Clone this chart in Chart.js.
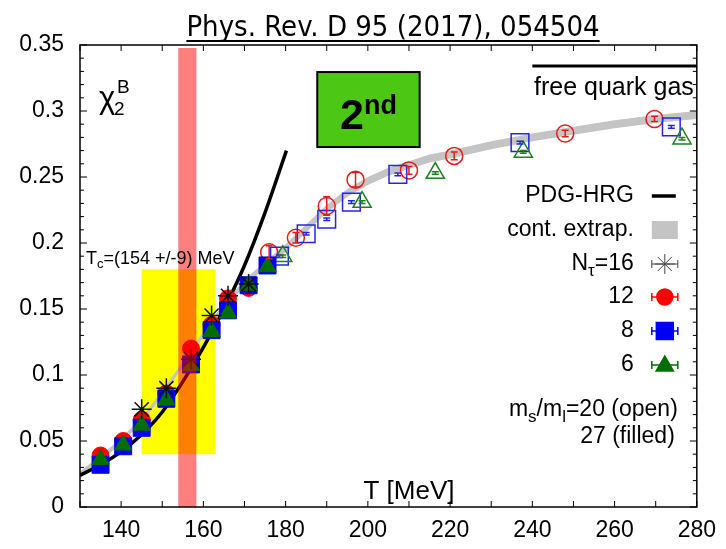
<!DOCTYPE html>
<html>
<head>
<meta charset="utf-8">
<script src="https://cdn.jsdelivr.net/npm/chart.js@4.4.1/dist/chart.umd.min.js"></script>
<style>
  html, body { margin: 0; padding: 0; background: #fff; }
  #chi2Chart { display: block; }
</style>
</head>
<body>
<canvas id="chi2Chart" width="726" height="549"></canvas>
<script>
// axis ranges and tick labels
const xMin = 130, xMax = 280;
const yMin = 0, yMax = 0.35;
const xTickLabels = ['140', '160', '180', '200', '220', '240', '260', '280'];
const yTickLabels = ['0', '0.05', '0.1', '0.15', '0.2', '0.25', '0.3', '0.35'];

// ms/ml = 27 (filled symbols)
const nt16T   = [145, 151, 157, 162, 166, 171];
const nt16Chi = [0.074, 0.090, 0.112, 0.145, 0.160, 0.169];

const nt12T   = [135, 140.5, 145, 151, 157, 162, 166, 171];
const nt12Chi = [0.039, 0.050, 0.066, 0.086, 0.120, 0.138, 0.158, 0.166];

const nt8T    = [135, 140.5, 145, 151, 157, 162, 166, 171, 175.6];
const nt8Chi  = [0.032, 0.046, 0.060, 0.082, 0.108, 0.134, 0.149, 0.168, 0.183];

const nt6T    = [135, 140.5, 145, 151, 157, 162, 166, 171, 175.6];
const nt6Chi  = [0.036, 0.047, 0.062, 0.081, 0.107, 0.133, 0.147, 0.168, 0.182];

// ms/ml = 20 (open symbols)
const nt12OpenT   = [176, 182.5, 190, 197, 210, 221, 248, 269.7];
const nt12OpenChi = [0.193, 0.204, 0.228, 0.248, 0.255, 0.266, 0.283, 0.294];
const nt12OpenErr = [0.005, 0.004, 0.007, 0.0055, 0.003, 0.003, 0.0025, 0.002];

const nt8OpenT    = [178.5, 185, 190, 196, 207.3, 237, 273.8];
const nt8OpenChi  = [0.190, 0.207, 0.218, 0.231, 0.252, 0.276, 0.288];
const nt8OpenErr  = [0.001, 0.001, 0.001, 0.001, 0.001, 0.001, 0.001];

const nt6OpenT    = [179.3, 198.6, 216.4, 237.8, 276.4];
const nt6OpenChi  = [0.190, 0.231, 0.253, 0.269, 0.279];
const nt6OpenErr  = [0.001, 0.001, 0.001, 0.001, 0.001];

// continuum extrapolation band
const contT  = [130, 135, 140, 145, 150, 155, 160, 165, 170, 175, 180, 185, 190, 195, 200, 205, 210, 215, 220, 230, 240, 250, 260, 270, 280];
const contLo = [0.023, 0.035, 0.048, 0.064, 0.084, 0.106, 0.129, 0.150, 0.167, 0.181, 0.193, 0.208, 0.223, 0.235, 0.244, 0.251, 0.256, 0.261, 0.264, 0.271, 0.277, 0.282, 0.287, 0.291, 0.294];
const contHi = [0.027, 0.039, 0.052, 0.068, 0.088, 0.110, 0.133, 0.155, 0.172, 0.186, 0.199, 0.214, 0.229, 0.241, 0.250, 0.257, 0.262, 0.267, 0.270, 0.277, 0.283, 0.288, 0.293, 0.297, 0.300];

// hadron resonance gas
const hrgT   = [130, 135, 140, 145, 150, 155, 160, 165, 170, 175, 180.2];
const hrgChi = [0.024, 0.032, 0.042, 0.055, 0.072, 0.095, 0.121, 0.150, 0.183, 0.223, 0.270];

// free quark gas limit and Tc bands
const freeGasT = [240, 280];
const freeGasChi = 0.334;
const tcBandT = [145, 163];
const tcBandChi = [0.04, 0.18];
const chiralBandT = [153.9, 158.3];

const pts = (xs, ys) => xs.map((x, i) => ({ x: x, y: ys[i] }));

const BLUE = '#0000f0';
const RED = '#ff0000';
const GREEN = '#006e00';
const FONT = 'Liberation Sans, Arial, sans-serif';
const LEG = 23;

function markerSet(label, xs, ys, style, color, radius, filled, order, errs) {
    return {
        label: label,
        data: pts(xs, ys),
        showLine: false,
        pointStyle: style,
        pointRadius: radius,
        pointHoverRadius: radius,
        pointBorderColor: color,
        pointBackgroundColor: filled ? color : 'rgba(0,0,0,0)',
        pointBorderWidth: filled ? 1 : 1.5,
        order: order,
        yErr: errs || null
    };
}

function drawRich(ctx, parts, x, y, align) {
    let total = 0;
    parts.forEach(p => {
        ctx.font = (p.bold ? 'bold ' : '') + p.size + 'px ' + FONT;
        p.w = ctx.measureText(p.t).width;
        total += p.w;
    });
    let cx = align === 'right' ? x - total : (align === 'center' ? x - total / 2 : x);
    parts.forEach(p => {
        ctx.font = (p.bold ? 'bold ' : '') + p.size + 'px ' + FONT;
        ctx.fillText(p.t, cx, y + (p.dy || 0));
        cx += p.w;
    });
}

function errBarSample(ctx, x0, x1, y, color, width) {
    ctx.strokeStyle = color;
    ctx.lineWidth = width;
    ctx.beginPath();
    ctx.moveTo(x0, y); ctx.lineTo(x1, y);
    ctx.moveTo(x0, y - 4); ctx.lineTo(x0, y + 4);
    ctx.moveTo(x1, y - 4); ctx.lineTo(x1, y + 4);
    ctx.stroke();
}

const decorPlugin = {
    id: 'decor',
    beforeDatasetsDraw(chart) {
        const { ctx, scales: { x, y } } = chart;
        // Tc = 154 +/- 9 MeV box
        ctx.save();
        ctx.fillStyle = '#ffff00';
        const x0 = x.getPixelForValue(tcBandT[0]), x1 = x.getPixelForValue(tcBandT[1]);
        const y0 = y.getPixelForValue(tcBandChi[1]), y1 = y.getPixelForValue(tcBandChi[0]);
        ctx.fillRect(x0, y0, x1 - x0, y1 - y0);
        ctx.restore();
    },
    afterDatasetsDraw(chart) {
        const { ctx, chartArea: a, scales: { x, y } } = chart;
        ctx.save();
        // vertical error bars
        chart.data.datasets.forEach(ds => {
            if (!ds.yErr) return;
            ctx.strokeStyle = ds.pointBorderColor;
            ctx.lineWidth = 1.5;
            ds.data.forEach((p, i) => {
                const px = x.getPixelForValue(p.x);
                const top = y.getPixelForValue(p.y + ds.yErr[i]);
                const bot = y.getPixelForValue(p.y - ds.yErr[i]);
                ctx.beginPath();
                ctx.moveTo(px, top); ctx.lineTo(px, bot);
                ctx.moveTo(px - 3.5, top); ctx.lineTo(px + 3.5, top);
                ctx.moveTo(px - 3.5, bot); ctx.lineTo(px + 3.5, bot);
                ctx.stroke();
            });
        });
        // chiral crossover band
        ctx.fillStyle = 'rgba(255,0,0,0.5)';
        const b0 = x.getPixelForValue(chiralBandT[0]), b1 = x.getPixelForValue(chiralBandT[1]);
        ctx.fillRect(b0, a.top + 3, b1 - b0, a.bottom - a.top - 3);
        ctx.restore();
    },
    afterDraw(chart) {
        const { ctx, chartArea: a, scales: { x, y } } = chart;
        ctx.save();
        ctx.fillStyle = '#000';
        ctx.strokeStyle = '#000';

        // frame
        ctx.lineWidth = 1.5;
        ctx.strokeRect(a.left, a.top, a.right - a.left, a.bottom - a.top);

        // inward ticks on all four sides
        ctx.lineWidth = 1;
        ctx.beginPath();
        x.ticks.forEach(t => {
            const px = x.getPixelForValue(t.value);
            ctx.moveTo(px, a.bottom); ctx.lineTo(px, a.bottom - 6);
            ctx.moveTo(px, a.top); ctx.lineTo(px, a.top + 6);
        });
        y.ticks.forEach(t => {
            const py = y.getPixelForValue(t.value);
            const len = t.label ? 7 : 4;
            ctx.moveTo(a.left, py); ctx.lineTo(a.left + len, py);
            ctx.moveTo(a.right, py); ctx.lineTo(a.right - len, py);
        });
        ctx.stroke();

        // title
        ctx.textBaseline = 'alphabetic';
        ctx.textAlign = 'left';
        ctx.font = '29px Liberation Sans Narrow, DejaVu Sans Condensed, sans-serif';
        const title = 'Phys. Rev. D 95 (2017), 054504';
        const tw = ctx.measureText(title).width;
        const tx = 393 - tw / 2;
        ctx.fillText(title, tx, 36);
        ctx.fillRect(tx, 40, tw, 2);

        // chi_2^B label
        ctx.font = '31px ' + FONT;
        ctx.fillText('\u03c7', a.left + 19, a.top + 63);
        ctx.font = '19px ' + FONT;
        ctx.fillText('B', a.left + 37, a.top + 48);
        ctx.fillText('2', a.left + 34, a.top + 70);

        // free quark gas
        const fq = y.getPixelForValue(freeGasChi);
        ctx.lineWidth = 3;
        ctx.beginPath();
        ctx.moveTo(x.getPixelForValue(freeGasT[0]), fq);
        ctx.lineTo(x.getPixelForValue(freeGasT[1]), fq);
        ctx.stroke();
        ctx.font = '25px ' + FONT;
        ctx.textAlign = 'right';
        ctx.fillText('free quark gas', a.right - 3, fq + 29);
        ctx.textAlign = 'left';

        // "2nd" box
        const bx0 = x.getPixelForValue(187.7), bx1 = x.getPixelForValue(212.6);
        const by0 = y.getPixelForValue(0.3295), by1 = y.getPixelForValue(0.2727);
        ctx.fillStyle = '#4cc814';
        ctx.fillRect(bx0, by0, bx1 - bx0, by1 - by0);
        ctx.lineWidth = 2;
        ctx.strokeRect(bx0, by0, bx1 - bx0, by1 - by0);
        ctx.fillStyle = '#000';
        drawRich(ctx, [
            { t: '2', size: 43, bold: true },
            { t: 'nd', size: 27, bold: true, dy: -15 }
        ], (bx0 + bx1) / 2, by0 + 57, 'center');

        // Tc label
        drawRich(ctx, [
            { t: 'T', size: 18 },
            { t: 'c', size: 13, dy: 4 },
            { t: '=(154 +/-9) MeV', size: 18 }
        ], a.left + 6, y.getPixelForValue(0.184), 'left');

        // x axis title inside the frame
        ctx.font = '26px ' + FONT;
        ctx.textAlign = 'center';
        ctx.fillText('T [MeV]', x.getPixelForValue(210), a.bottom - 8);
        ctx.textAlign = 'left';

        // legend
        const tr = a.right - 63;
        const s0 = a.right - 45, s1 = a.right - 19, sc = (s0 + s1) / 2;
        const rows = [a.top + 151, a.top + 185, a.top + 219, a.top + 252, a.top + 286, a.top + 320];
        ctx.textBaseline = 'middle';
        drawRich(ctx, [{ t: 'PDG-HRG', size: LEG }], tr, rows[0], 'right');
        ctx.lineWidth = 3.5;
        ctx.beginPath(); ctx.moveTo(s0, rows[0]); ctx.lineTo(s1 - 2, rows[0]); ctx.stroke();

        drawRich(ctx, [{ t: 'cont. extrap.', size: LEG }], tr, rows[1], 'right');
        ctx.fillStyle = '#c4c4c4';
        ctx.fillRect(s0, rows[1] - 9, s1 - s0, 18);
        ctx.fillStyle = '#000';

        drawRich(ctx, [
            { t: 'N', size: LEG },
            { t: '\u03c4', size: 17, dy: 7 },
            { t: '=16', size: LEG }
        ], tr, rows[2], 'right');
        errBarSample(ctx, s0, s1, rows[2], '#444', 1);
        Chart.helpers.drawPoint(ctx, { pointStyle: 'star', radius: 10, rotation: 0, borderWidth: 1 }, sc, rows[2]);
        ctx.strokeStyle = '#000';

        const samples = [
            { t: '12', c: RED, style: 'circle', r: 8 },
            { t: '8', c: BLUE, style: 'rect', r: 12 },
            { t: '6', c: GREEN, style: 'triangle', r: 10 }
        ];
        samples.forEach((s, i) => {
            const ry = rows[3 + i];
            ctx.fillStyle = '#000';
            drawRich(ctx, [{ t: s.t, size: LEG }], tr, ry, 'right');
            errBarSample(ctx, s0, s1, ry, s.c, 1.5);
            ctx.fillStyle = s.c;
            ctx.strokeStyle = s.c;
            Chart.helpers.drawPoint(ctx, { pointStyle: s.style, radius: s.r, rotation: 0, borderWidth: 1 }, sc, ry + (s.style === 'triangle' ? 1 : 0));
        });

        ctx.fillStyle = '#000';
        drawRich(ctx, [
            { t: 'm', size: LEG }, { t: 's', size: 17, dy: 7 },
            { t: '/m', size: LEG }, { t: 'l', size: 17, dy: 7 },
            { t: '=20 (open)', size: LEG }
        ], a.right - 19, a.top + 365, 'right');
        drawRich(ctx, [{ t: '27 (filled)', size: LEG }], a.right - 22, a.top + 392, 'right');

        ctx.restore();
    }
};

new Chart(document.getElementById('chi2Chart'), {
    type: 'scatter',
    data: {
        datasets: [
            {
                label: 'cont-lo', data: pts(contT, contLo), showLine: true,
                borderWidth: 0, pointRadius: 0, fill: false, order: 30
            },
            {
                label: 'cont. extrap.', data: pts(contT, contHi), showLine: true,
                borderWidth: 0, pointRadius: 0, fill: '-1', backgroundColor: '#c4c4c4', order: 29
            },
            {
                label: 'PDG-HRG', data: pts(hrgT, hrgChi), showLine: true,
                borderColor: '#000', borderWidth: 3.5, pointRadius: 0, cubicInterpolationMode: 'monotone', order: 28
            },
            markerSet('12 open', nt12OpenT, nt12OpenChi, 'circle', '#e81818', 8.5, false, 8, nt12OpenErr),
            markerSet('8 open', nt8OpenT, nt8OpenChi, 'rect', '#2424e8', 12.5, false, 7, nt8OpenErr),
            markerSet('6 open', nt6OpenT, nt6OpenChi, 'triangle', '#1f7f1f', 10.5, false, 6, nt6OpenErr),
            markerSet('12', nt12T, nt12Chi, 'circle', RED, 8.5, true, 5),
            markerSet('8', nt8T, nt8Chi, 'rect', BLUE, 12, true, 4),
            markerSet('6', nt6T, nt6Chi, 'triangle', GREEN, 10, true, 3),
            markerSet('16', nt16T, nt16Chi, 'star', '#111', 10, false, 2)
        ]
    },
    options: {
        responsive: false,
        animation: false,
        devicePixelRatio: 1,
        layout: { padding: { left: 0, top: 45, right: 27, bottom: 0 } },
        plugins: {
            legend: { display: false },
            tooltip: { enabled: false },
            title: { display: false }
        },
        scales: {
            x: {
                type: 'linear',
                min: xMin,
                max: xMax,
                afterFit: s => { s.height = 42; },
                grid: { display: false, drawTicks: false },
                border: { display: false },
                ticks: {
                    stepSize: 10,
                    autoSkip: false,
                    maxRotation: 0,
                    padding: 10,
                    color: '#000',
                    font: { family: FONT, size: 23 },
                    callback: v => xTickLabels.includes(String(v)) ? String(v) : ''
                }
            },
            y: {
                type: 'linear',
                min: yMin,
                max: yMax,
                afterFit: s => { s.width = 80; },
                grid: { display: false, drawTicks: false },
                border: { display: false },
                ticks: {
                    stepSize: 0.01,
                    autoSkip: false,
                    padding: 16,
                    color: '#000',
                    font: { family: FONT, size: 23 },
                    callback: v => {
                        const s = String(Math.round(v * 100) / 100);
                        return yTickLabels.includes(s) ? s : '';
                    }
                }
            }
        }
    },
    plugins: [decorPlugin]
});
</script>
</body>
</html>
